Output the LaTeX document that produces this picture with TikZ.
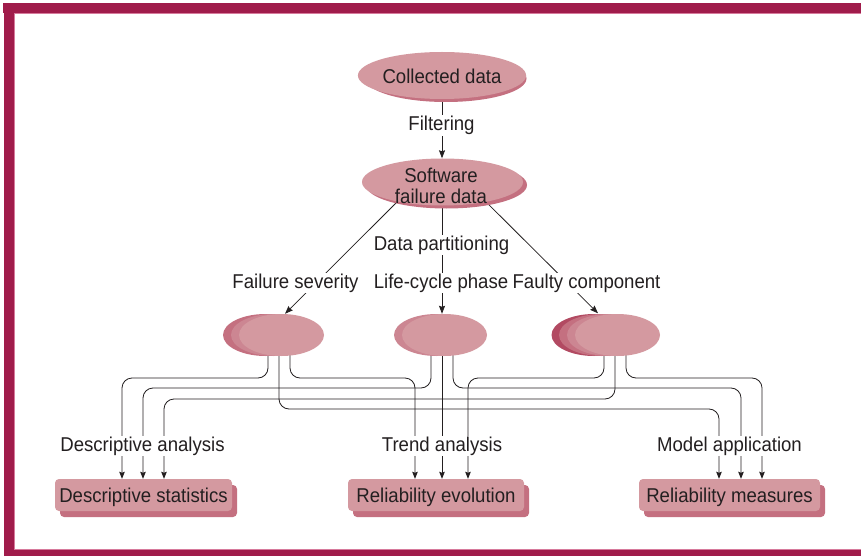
\documentclass[tikz,border=0pt]{standalone}
\usepackage{fontspec}
\setmainfont{Liberation Sans}[FakeStretch=0.93]
\usetikzlibrary{shapes.geometric,arrows.meta,calc}
\pgfdeclarelayer{background}
\pgfsetlayers{background,main}
\definecolor{framecol}{HTML}{A01C4B}
\definecolor{frameedge}{HTML}{D77A9C}
\definecolor{pinkA}{HTML}{D499A0}
\definecolor{pinkB}{HTML}{CC8692}
\definecolor{pinkC}{HTML}{C47080}
\definecolor{pinkD}{HTML}{B24A62}
\definecolor{ink}{HTML}{231F20}
\begin{document}
\begin{tikzpicture}[x=1pt,y=-1pt,
  every node/.style={font=\fontsize{20}{20.6}\selectfont, text=ink},
  lbl/.style={fill=white, inner xsep=1pt, inner ysep=0.5pt, text height=15pt, text depth=4.5pt, anchor=base},
  plaintxt/.style={inner sep=0pt},
  bigell/.style={ellipse, fill=pinkA, minimum width=161pt, minimum height=47pt, inner sep=0pt, text height=15.6pt, text depth=0pt},
  bigsh/.style={ellipse, fill=pinkC, minimum width=161pt, minimum height=47pt, inner sep=0pt},
  smell/.style={ellipse, fill=#1, minimum width=85pt, minimum height=42pt, inner sep=0pt},
  flowbox/.style={rectangle, rounded corners=4pt, fill=pinkA, minimum width=#1, minimum height=32pt, inner sep=0pt, text height=14.5pt, text depth=0.5pt},
  flowboxsh/.style={rectangle, rounded corners=4pt, fill=pinkC, minimum width=#1, minimum height=32pt, inner sep=0pt},
  wire/.style={draw=ink, line width=0.8pt, rounded corners=10pt, -{Stealth[length=7pt,width=5.5pt,inset=1pt]}},
  arr/.style={draw=ink, line width=0.8pt, -{Stealth[length=8pt,width=6pt,inset=1pt]}},
]
\useasboundingbox (0,0) rectangle (861,556);
\begin{pgfonlayer}{background}
\fill[white] (0,0) rectangle (861,556);
\end{pgfonlayer}
% frame
\fill[framecol] (3,3) rectangle (861,13.5);
\fill[framecol] (4,3) rectangle (14,556);
\fill[framecol] (4,549.5) rectangle (861,556);
\draw[frameedge, line width=0.8pt] (861,13.9) -- (14.4,13.9) -- (14.4,549.1) -- (861,549.1);

% top ellipses
\node[bigsh] (cdsh) at (446,78.5) {};
\node[bigell] (cd) at (442,75.5) {Collected data};
\node[bigsh] (swsh) at (446.5,185) {};
\node[bigell] (sw) at (442.5,182) {};
\node[plaintxt, align=center, anchor=north] (swt) at (441,168.1) {Software\\failure data};

% middle ellipses
\node[smell=pinkC] (eL2) at (265.5,335) {};
\node[smell=pinkB] (eL1) at (273.5,335) {};
\node[smell=pinkA] (eL) at (281.5,335) {};
\node[smell=pinkB] (eM1) at (436.5,335) {};
\node[smell=pinkA] (eM) at (444.5,335) {};
\node[smell=pinkD] (eR3) at (594,335) {};
\node[smell=pinkC] (eR2) at (601.5,335) {};
\node[smell=pinkB] (eR1) at (609.5,335) {};
\node[smell=pinkA] (eR) at (617.5,335) {};

% result boxes
\node[flowboxsh=177pt] (bDsh) at (148.5,501) {};
\node[flowbox=177pt] (bD) at (143.5,495) {Descriptive statistics};
\node[flowboxsh=176pt] (bTsh) at (441,501) {};
\node[flowbox=176pt] (bT) at (436,495) {Reliability evolution};
\node[flowboxsh=181pt] (bMsh) at (734.5,501) {};
\node[flowbox=181pt] (bM) at (729.5,495) {Reliability measures};

% arrow end points
\coordinate (tipL) at ($(eL.north)+(3.5,0)$);
\coordinate (tipM) at ($(eM.north)+(-2.5,0)$);
\coordinate (tipR) at ($(eR.north)+(-19.5,-0.5)$);
\coordinate (d1) at ($(bD.north)+(-21.5,0)$);
\coordinate (d2) at ($(bD.north)+(-0.5,0)$);
\coordinate (d3) at ($(bD.north)+(20.5,0)$);
\coordinate (t1) at ($(bT.north)+(-21,0)$);
\coordinate (t2) at ($(bT.north)+(6,0)$);
\coordinate (t3) at ($(bT.north)+(32,0)$);
\coordinate (m1) at ($(bM.north)+(-10.5,0)$);
\coordinate (m2) at ($(bM.north)+(11.5,0)$);
\coordinate (m3) at ($(bM.north)+(32.5,0)$);

\begin{pgfonlayer}{background}
\draw[arr] (cd.south) -- (cd.south |- sw.north);
\draw[arr] ($(sw.center)+(-25.5,0)$) -- (tipL);
\draw[arr] ($(sw.center)+(-0.5,0)$) -- (tipM);
\draw[arr] ($(sw.center)+(23.5,0)$) -- (tipR);
% wires from left ellipse
\draw[wire] ($(eL.center)+(-13.5,0)$) -- ++(0,43) -| (d1);
\draw[wire] ($(eL.center)+(-2.5,0)$) -- ++(0,74) -| (m1);
\draw[wire] ($(eL.center)+(8.5,0)$) -- ++(0,43) -| (t1);
% wires from middle ellipse
\draw[wire] ($(eM.center)+(-13.5,0)$) -- ++(0,53) -| (d2);
\draw[wire] ($(eM.center)+(-2.5,0)$) -- (t2);
\draw[wire] ($(eM.center)+(8.5,0)$) -- ++(0,53) -| (m2);
% wires from right ellipse
\draw[wire] ($(eR.center)+(-13.5,0)$) -- ++(0,43) -| (t3);
\draw[wire] ($(eR.center)+(-2.5,0)$) -- ++(0,64) -| (d3);
\draw[wire] ($(eR.center)+(8.5,0)$) -- ++(0,43) -| (m3);
\end{pgfonlayer}

% labels
\node[lbl] (filt) at (441.5,131) {Filtering};
\node[lbl] (dp) at (441.5,250) {Data partitioning};
\node[lbl] (fs) at (295.5,288) {Failure severity};
\node[lbl] (lc) at (441,288) {Life-cycle phase};
\node[lbl] (fc) at (586.5,288) {Faulty component};
\node[lbl] (da) at (142.5,451) {Descriptive analysis};
\node[lbl] (ta) at (442,451) {Trend analysis};
\node[lbl] (ma) at (729.5,451) {Model application};
\end{tikzpicture}
\end{document}
